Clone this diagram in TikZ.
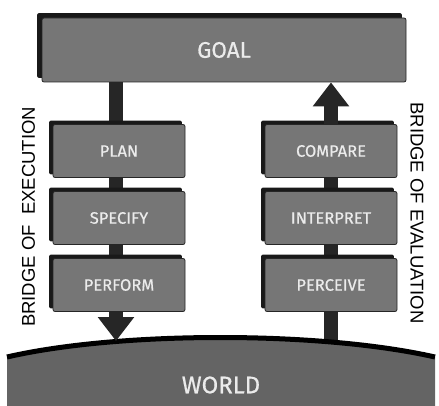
\documentclass[tikz,border=0pt]{standalone}
\usepackage{fontspec}
\setmainfont{Fira Sans}
\newfontfamily\boxfont[FakeBold=0.6]{Fira Sans}
\newfontfamily\labelfont{Liberation Sans}
\usetikzlibrary{arrows.meta,backgrounds,calc}
\definecolor{boxgray}{HTML}{767676}
\definecolor{worldgray}{HTML}{646464}
\definecolor{stemcol}{HTML}{262626}
\tikzset{
  stagebox/.style={draw=black!85, line width=0.8pt, fill=boxgray, rounded corners=2pt,
    minimum width=132pt, minimum height=53pt, text=white!92!black, font=\boxfont\fontsize{16.5}{16.5}\selectfont},
  goalbox/.style={stagebox, minimum width=364pt, minimum height=64pt, font=\boxfont\fontsize{22.5}{22.5}\selectfont},
  shadowfill/.style={fill=black!90, rounded corners=2pt},
  stem/.style={draw=stemcol, line width=14pt},
  bigarrow/.style={stem, -{Triangle[length=24pt,width=35pt]}},
  sidelabel/.style={font=\labelfont\fontsize{18.5}{18.5}\selectfont, text=black}
}
\begin{document}
\begin{tikzpicture}[x=1pt,y=-1pt]
\useasboundingbox (0,0) rectangle (439,406);
% world
\fill[worldgray] (7,406) -- (7,357) .. controls (120,331) and (320,331) .. (435,357) -- (435,406) -- cycle;
\draw[black, line width=5pt] (7,357) .. controls (120,331) and (320,331) .. (435,357);
\coordinate (wl) at (116,341);
\coordinate (wr) at (331,346);
\node[text=white!92!black, font=\boxfont\fontsize{24}{24}\selectfont] (world) at (221,385) {WORLD};
% boxes
\node[goalbox] (goal) at (224,50) {GOAL};
\node[stagebox] (plan) at (119,151) {PLAN};
\node[stagebox] (specify) at (119,218) {SPECIFY};
\node[stagebox] (perform) at (119,285) {PERFORM};
\node[stagebox] (compare) at (331,151) {COMPARE};
\node[stagebox] (interpret) at (331,218) {INTERPRET};
\node[stagebox] (perceive) at (331,285) {PERCEIVE};
% connectors and shadows
\begin{pgfonlayer}{background}
\draw[stem] (goal.south -| wl) -- (plan.north -| wl);
\draw[stem] (plan.south -| wl) -- (specify.north -| wl);
\draw[stem] (specify.south -| wl) -- (perform.north -| wl);
\draw[stem] (compare.south) -- (interpret.north);
\draw[stem] (interpret.south) -- (perceive.north);
\draw[stem] (perceive.south) -- (wr);
\foreach \n/\d in {goal/4.5,plan/3.5,specify/3.5,perform/3.5,compare/3.5,interpret/3.5,perceive/3.5}
  \fill[shadowfill] ([shift={(-\d,-\d)}]\n.north west) rectangle ([shift={(-\d,-\d)}]\n.south east);
\end{pgfonlayer}
\draw[bigarrow] (perform.south -| wl) -- (wl);
\draw[bigarrow] (compare.north) -- (goal.south -| compare.north);
% side labels
\node[sidelabel, rotate=90] (exec) at (28.5,217) {BRIDGE OF\ \ EXECUTION};
\node[sidelabel, rotate=-90] (eval) at (417,213) {BRIDGE OF EVALUATION};
\end{tikzpicture}
\end{document}
